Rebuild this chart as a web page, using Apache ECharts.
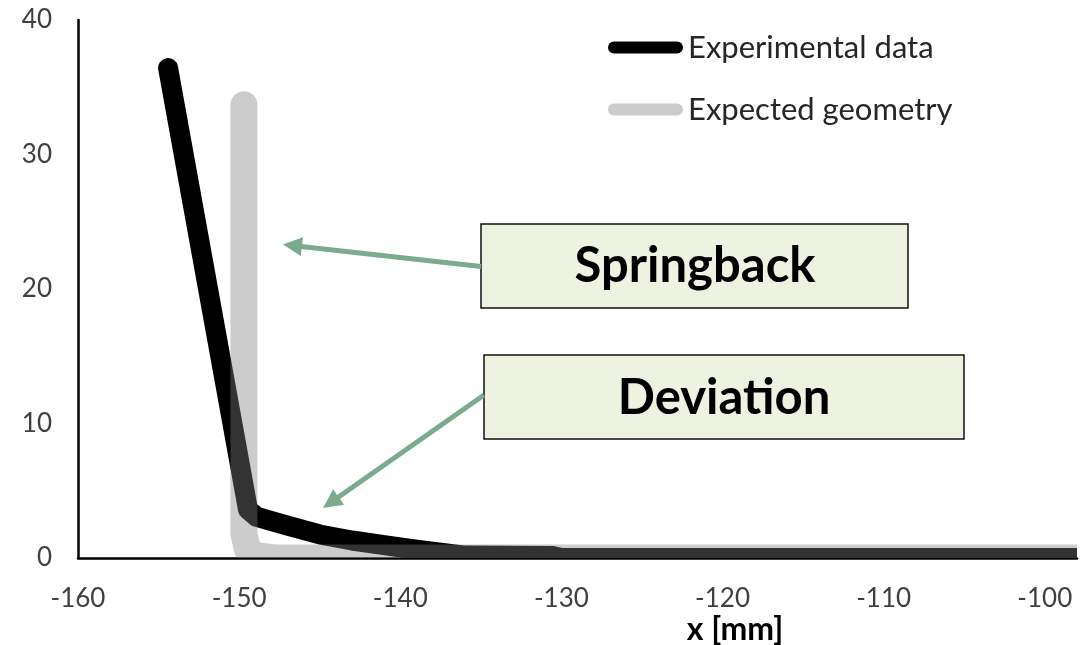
<!DOCTYPE html>
<html>
<head>
<meta charset="utf-8">
<script src="https://cdn.jsdelivr.net/npm/echarts@6/dist/echarts.min.js"></script>
<style>
  html, body { margin: 0; padding: 0; background: #ffffff; }
  #chart { width: 1089px; height: 645px; }
</style>
</head>
<body>
<div id="chart"></div>
<script>
// Axis ticks
const xTicks = [-160, -150, -140, -130, -120, -110, -100];
const yTicks = [0, 10, 20, 30, 40];
const xAxisEnd = -98;

// Series names
const seriesNames = ['Experimental data', 'Expected geometry'];

// Measured profile (x [mm], y [mm])
const expX = [-154.41, -149.45, -148.9, -147.0, -145.0, -143.0, -141.0, -139.0, -137.0, -136.0, -130.5, -130.0, -98.0];
const expY = [36.43, 3.6, 3.05, 2.4, 1.75, 1.3, 0.95, 0.62, 0.32, 0.18, 0.14, 0.0, 0.0];

// Nominal tool geometry (x [mm], y [mm])
const geoX = [-149.7, -149.7, -149.5, -149.0, -147.8, -98.0];
const geoY = [33.7, 1.8, 0.7, 0.18, 0.0, 0.0];

const FONT = 'Lato';
const ARROW = '#7aab8e';

function profile(xs, ys, color, width, opacity) {
  return function (params, api) {
    if (params.dataIndex !== 0) return null;
    const pts = xs.map((x, i) => api.coord([x, ys[i]]));
    return {
      type: 'polyline',
      shape: { points: pts },
      style: { fill: 'none', stroke: color, lineWidth: width, lineCap: 'round', lineJoin: 'round', opacity: opacity }
    };
  };
}

function arrow(x1, y1, x2, y2) {
  const dx = x2 - x1, dy = y2 - y1, L = Math.hypot(dx, dy);
  const ux = dx / L, uy = dy / L, hl = 19, hw = 9.5;
  const bx = x2 - ux * hl, by = y2 - uy * hl;
  return [
    { type: 'line', z: 100, shape: { x1: x1, y1: y1, x2: bx + ux * 3, y2: by + uy * 3 },
      style: { stroke: ARROW, lineWidth: 5 } },
    { type: 'polygon', z: 100,
      shape: { points: [[x2, y2], [bx - uy * hw, by + ux * hw], [bx + uy * hw, by - ux * hw]] },
      style: { fill: ARROW } }
  ];
}

function box(x, y, w, h, label, cx, cy) {
  return [
    { type: 'rect', z: 100, shape: { x: x, y: y, width: w, height: h },
      style: { fill: '#eef2e1', stroke: '#111111', lineWidth: 1.5 } },
    { type: 'text', z: 101, x: cx, y: cy,
      style: { text: label, fill: '#000000', font: 'bold 49px ' + FONT, align: 'center', verticalAlign: 'middle' } }
  ];
}

const chart = echarts.init(document.getElementById('chart'), null, { renderer: 'canvas' });

const option = {
  animation: false,
  backgroundColor: '#ffffff',
  grid: { left: 78, right: 12, top: 20, bottom: 87, containLabel: false },
  xAxis: {
    type: 'value',
    min: xTicks[0],
    max: xAxisEnd,
    interval: xTicks[1] - xTicks[0],
    axisLine: { show: true, lineStyle: { color: '#000000', width: 2.5 } },
    axisTick: { show: false },
    splitLine: { show: false },
    axisLabel: {
      showMaxLabel: false,
      margin: 28,
      fontFamily: FONT, fontSize: 26, color: '#404040',
      formatter: v => (xTicks.indexOf(v) >= 0 ? String(v) : '')
    }
  },
  yAxis: {
    type: 'value',
    min: yTicks[0],
    max: yTicks[yTicks.length - 1],
    interval: yTicks[1] - yTicks[0],
    axisLine: { show: true, lineStyle: { color: '#000000', width: 2.5 } },
    axisTick: { show: false },
    splitLine: { show: false },
    axisLabel: { margin: 26, fontFamily: FONT, fontSize: 26, color: '#404040' }
  },
  legend: {
    orient: 'vertical',
    left: 608,
    top: 32,
    padding: 0,
    itemGap: 31,
    itemWidth: 75,
    itemHeight: 12,
    selectedMode: false,
    textStyle: { fontFamily: FONT, fontSize: 31, color: '#262626', lineHeight: 30 },
    data: [
      { name: seriesNames[0], icon: 'path://M6,0L69,0A6,6,0,0,1,69,12L6,12A6,6,0,0,1,6,0Z', itemStyle: { color: '#000000' } },
      { name: seriesNames[1], icon: 'path://M6,0L69,0A6,6,0,0,1,69,12L6,12A6,6,0,0,1,6,0Z', itemStyle: { color: '#cccccc' } }
    ]
  },
  series: [
    {
      name: seriesNames[0],
      type: 'custom',
      clip: true,
      itemStyle: { color: '#000000' },
      encode: { x: 0, y: 1 },
      data: expX.map((x, i) => [x, expY[i]]),
      renderItem: profile(expX, expY, '#000000', 20, 1)
    },
    {
      name: seriesNames[1],
      type: 'custom',
      clip: true,
      itemStyle: { color: '#cccccc' },
      encode: { x: 0, y: 1 },
      data: geoX.map((x, i) => [x, geoY[i]]),
      renderItem: profile(geoX, geoY, '#808080', 27, 0.4)
    }
  ],
  graphic: [
    { type: 'text', z: 100, x: 735, y: 630,
      style: { text: 'x [mm]', fill: '#000000', font: 'bold 32px ' + FONT, align: 'center', verticalAlign: 'middle' } },
    ...box(481, 224, 427, 84, 'Springback', 695, 266),
    ...box(484, 355, 480, 84, 'Deviation', 724, 398),
    ...arrow(481, 266.5, 283, 244.5),
    ...arrow(484, 395, 323, 508)
  ]
};

chart.setOption(option);
</script>
</body>
</html>
